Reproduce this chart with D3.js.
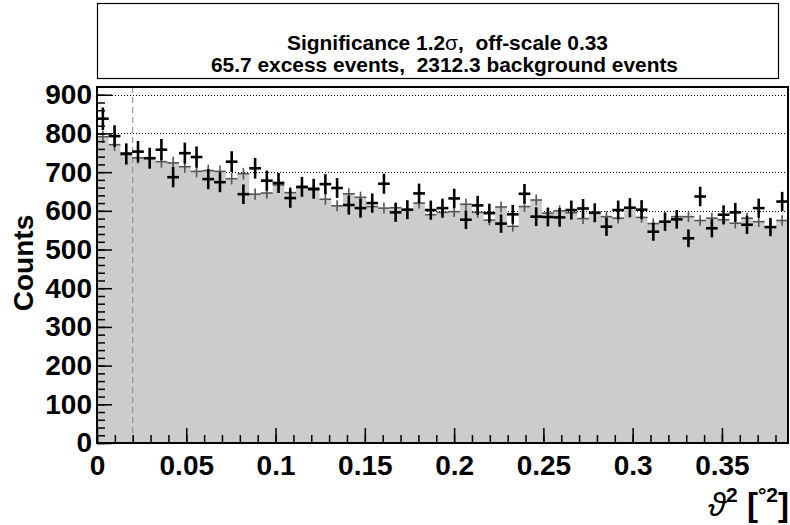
<!DOCTYPE html>
<html>
<head>
<meta charset="utf-8">
<script src="https://cdn.jsdelivr.net/npm/d3@7"></script>
<style>
  body { margin: 0; background: #fff; }
  text { font-family: "Liberation Sans", Arial, sans-serif; font-weight: bold; white-space: pre; }
</style>
</head>
<body>
<svg id="c" width="790" height="525"></svg>
<script>
// theta^2 histogram: ON counts (black) and scaled OFF counts (grey)
const offScale = 0.33;
const thetaCut = 0.02;
const binWidth = 0.387 / 59;

const onCounts = [838, 793, 747, 753, 736, 758, 687, 749, 739, 682,
  674, 727, 643, 710, 678, 672, 633, 662, 657, 669,
  659, 615, 607, 620, 670, 596, 603, 645, 602, 607,
  632, 577, 614, 594, 567, 591, 644, 585, 584, 583,
  602, 606, 595, 559, 602, 608, 603, 546, 572, 578,
  529, 637, 555, 590, 596, 564, 607, 558, 624];

const offCounts = [791.5, 771, 749.8, 737, 736, 727, 724, 714, 702, 704,
  702, 683, 696, 643, 646, 667, 647, 660, 654, 630,
  613, 644, 635, 611, 607, 608, 603, 620, 590, 596,
  598, 617, 596, 576, 610, 560, 611, 628, 594, 600,
  595, 580, 595, 585, 581, 608, 583, 567, 571, 585,
  585, 575, 581, 577, 568, 581, 572, 558, 575];

const xTicks = [0, 0.05, 0.1, 0.15, 0.2, 0.25, 0.3, 0.35];
const xTickLabels = ["0", "0.05", "0.1", "0.15", "0.2", "0.25", "0.3", "0.35"];
const yTicks = [0, 100, 200, 300, 400, 500, 600, 700, 800, 900];
const gridValues = [600, 700, 800, 900];

const titleLines = ["Significance 1.2", "65.7 excess events,  2312.3 background events"];

const pLeft = 97, pRight = 788, pTop = 87, pBottom = 443;

const svg = d3.select("#c");

const x = d3.scaleLinear().domain([0, binWidth * onCounts.length]).range([pLeft, pRight]);
const y = d3.scaleLinear().domain([0, 920]).range([pBottom, pTop]);

const bins = onCounts.map((v, i) => ({
  x0: i * binWidth,
  x1: (i + 1) * binWidth,
  on: v,
  off: offCounts[i]
}));

// title box
svg.append("rect")
  .attr("x", 97.5).attr("y", 3.5).attr("width", 681).attr("height", 75)
  .attr("fill", "#fff").attr("stroke", "#000").attr("stroke-width", 1.2);

const t1 = svg.append("text").attr("x", 287).attr("y", 50)
  .attr("font-size", 20).attr("textLength", 321).attr("lengthAdjust", "spacingAndGlyphs");
t1.append("tspan").text(titleLines[0]);
t1.append("tspan").attr("font-weight", "normal").text("\u03c3");
t1.append("tspan").text(",  off-scale " + offScale.toFixed(2));

svg.append("text").attr("x", 211).attr("y", 72)
  .attr("font-size", 20).attr("textLength", 467).attr("lengthAdjust", "spacingAndGlyphs")
  .text(titleLines[1]);

// grid (behind the histogram)
svg.append("g").selectAll("line").data(gridValues).join("line")
  .attr("x1", pLeft).attr("x2", pRight)
  .attr("y1", d => Math.round(y(d)) + 0.5).attr("y2", d => Math.round(y(d)) + 0.5)
  .attr("stroke", "#000").attr("stroke-width", 1).attr("stroke-dasharray", "1,2");

// off histogram fill
const area = d3.area()
  .curve(d3.curveStepAfter)
  .x(d => x(d.x))
  .y0(y(0))
  .y1(d => y(d.v));
const steps = bins.map(b => ({ x: b.x0, v: b.off }));
steps.push({ x: bins[bins.length - 1].x1, v: bins[bins.length - 1].off });
svg.append("path").datum(steps).attr("d", area).attr("fill", "#cccccc");

// cut line
svg.append("line")
  .attr("x1", x(thetaCut)).attr("x2", x(thetaCut))
  .attr("y1", pTop).attr("y2", pBottom)
  .attr("stroke", "#888").attr("stroke-width", 1).attr("stroke-dasharray", "6,4");

function crosses(g, key, err, color, w) {
  const sel = g.selectAll("g").data(bins).join("g");
  sel.append("line")
    .attr("x1", d => x(d.x0)).attr("x2", d => x(d.x1))
    .attr("y1", d => y(d[key])).attr("y2", d => y(d[key]))
    .attr("stroke", color).attr("stroke-width", w);
  sel.append("line")
    .attr("x1", d => x((d.x0 + d.x1) / 2)).attr("x2", d => x((d.x0 + d.x1) / 2))
    .attr("y1", d => y(d[key] - err(d[key]))).attr("y2", d => y(d[key] + err(d[key])))
    .attr("stroke", color).attr("stroke-width", w);
}

crosses(svg.append("g"), "off", v => Math.sqrt(v * offScale), "#555", 1.6);
crosses(svg.append("g"), "on", v => Math.sqrt(v), "#000", 2.6);

// axes
const yAxis = d3.axisLeft(y).tickValues(yTicks).tickSize(-15).tickPadding(5).tickFormat(d3.format("d"));
const yMinor = d3.axisLeft(y).tickValues(d3.range(0, 920, 20)).tickSize(-8).tickFormat("");
const xAxis = d3.axisBottom(x).tickValues(xTicks).tickSize(-15).tickPadding(12)
  .tickFormat((d, i) => xTickLabels[i]);
const xMinor = d3.axisBottom(x).tickValues(d3.range(0, 0.386, 0.01)).tickSize(-8).tickFormat("");

function styleAxis(g) {
  g.select(".domain").remove();
  g.selectAll("line").attr("stroke", "#000").attr("stroke-width", 1.5);
  g.selectAll("text").attr("font-size", 28).attr("font-family", "Liberation Sans, Arial, sans-serif")
    .attr("font-weight", "bold").attr("fill", "#000");
}

svg.append("g").attr("transform", `translate(${pLeft},0)`).call(yMinor).call(styleAxis);
svg.append("g").attr("transform", `translate(${pLeft},0)`).call(yAxis).call(styleAxis);
svg.append("g").attr("transform", `translate(0,${pBottom})`).call(xMinor).call(styleAxis);
svg.append("g").attr("transform", `translate(0,${pBottom})`).call(xAxis).call(styleAxis);

// frame
svg.append("rect")
  .attr("x", pLeft).attr("y", pTop).attr("width", pRight - pLeft).attr("height", pBottom - pTop)
  .attr("fill", "none").attr("stroke", "#000").attr("stroke-width", 2);

// axis titles
svg.append("text")
  .attr("transform", "translate(33,263) rotate(-90)")
  .attr("text-anchor", "middle").attr("font-size", 28)
  .text("Counts");

const xt = svg.append("text").attr("x", 789).attr("y", 516)
  .attr("text-anchor", "end").attr("font-size", 33);
xt.append("tspan").attr("font-weight", "normal").attr("font-style", "italic").text("\u03d1");
xt.append("tspan").attr("font-size", 21).attr("dy", -14).text("2");
xt.append("tspan").attr("dy", 14).text(" [");
xt.append("tspan").attr("font-size", 21).attr("dy", -14).text("\u00b02");
xt.append("tspan").attr("dy", 14).text("]");
</script>
</body>
</html>
